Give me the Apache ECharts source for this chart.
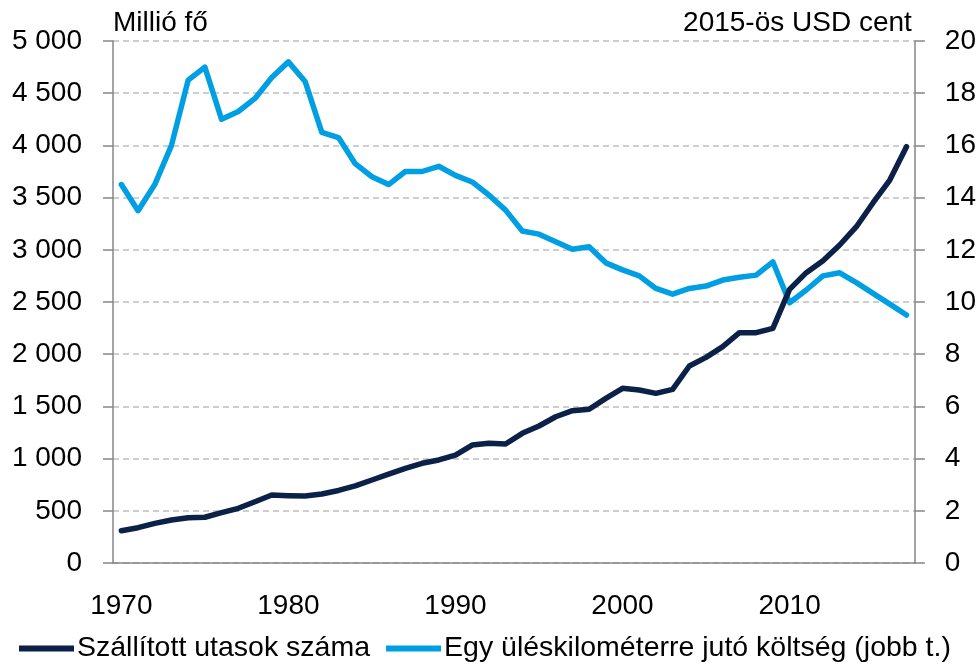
<!DOCTYPE html>
<html>
<head>
<meta charset="utf-8">
<script src="https://cdn.jsdelivr.net/npm/echarts@6/dist/echarts.min.js"></script>
<style>
  html, body { margin: 0; padding: 0; background: #fff; }
  #chart { width: 979px; height: 664px; }
</style>
</head>
<body>
<div id="chart"></div>
<script>
// years on the x axis (one category per year)
const years = [];
for (let y = 1970; y <= 2017; y++) years.push(String(y));

// Szállított utasok száma (millió fő, bal tengely)
const passengers = [
  309, 338, 380, 412, 434, 438, 482, 524, 587, 651,
  645, 642, 661, 695, 738, 795, 852, 907, 955, 987,
  1034, 1130, 1146, 1140, 1242, 1312, 1401, 1459, 1472, 1577,
  1673, 1657, 1625, 1663, 1887, 1970, 2072, 2206, 2206, 2248,
  2621, 2781, 2896, 3046, 3221, 3451, 3668, 3988
];

// Egy üléskilométerre jutó költség (2015-ös USD cent, jobb tengely)
const costPerSeatKm = [
  14.5, 13.5, 14.5, 16.0, 18.5, 19.0, 17.0, 17.3, 17.8, 18.6,
  19.2, 18.45, 16.5, 16.3, 15.3, 14.8, 14.5, 15.0, 15.0, 15.2,
  14.85, 14.6, 14.1, 13.52, 12.72, 12.6, 12.31, 12.02, 12.12, 11.5,
  11.23, 11.0, 10.52, 10.3, 10.52, 10.61, 10.84, 10.95, 11.03, 11.54,
  9.97, 10.46, 11.0, 11.12, 10.74, 10.33, 9.92, 9.5
];

const seriesNames = ['Szállított utasok száma', 'Egy üléskilométerre jutó költség (jobb t.)'];

const font = 'Liberation Sans, Arial, sans-serif';
const axisGray = '#868686';
const fs = 28;

const chart = echarts.init(document.getElementById('chart'));

const thousands = v => String(v).replace(/\B(?=(\d{3})+(?!\d))/g, ' ');

const option = {
  animation: false,
  textStyle: { fontFamily: font },
  grid: { left: 113, right: 64, top: 41, bottom: 101 },
  legend: {
    data: seriesNames,
    left: 14,
    top: 629,
    itemWidth: 55,
    itemHeight: 6,
    itemGap: 16,
    icon: 'rect',
    textStyle: { fontFamily: font, fontSize: 28.5, color: '#000', padding: [0, 0, 0, -2] }
  },
  xAxis: {
    type: 'category',
    data: years,
    boundaryGap: true,
    axisLine: { lineStyle: { color: axisGray, width: 1.5 } },
    axisTick: { interval: 9, length: 10, lineStyle: { color: axisGray, width: 1.5 } },
    axisLabel: { interval: 9, margin: 29, fontSize: fs, color: '#000', fontFamily: font },
    splitLine: { show: false }
  },
  yAxis: [
    {
      type: 'value',
      min: 0, max: 5000, interval: 500,
      name: 'Millió fő',
      nameLocation: 'end',
      nameGap: 4,
      nameTextStyle: { fontSize: fs, color: '#000', align: 'left', fontFamily: font },
      axisLine: { show: true, lineStyle: { color: axisGray, width: 1.5 } },
      axisTick: { show: true, length: 10, lineStyle: { color: axisGray, width: 1.5 } },
      axisLabel: { margin: 31, fontSize: fs, color: '#000', fontFamily: font, formatter: thousands },
      splitLine: { show: true, lineStyle: { color: '#bfbfbf', width: 1.5, type: [6, 4] } }
    },
    {
      type: 'value',
      min: 0, max: 20, interval: 2,
      position: 'right',
      name: '2015-ös USD cent',
      nameLocation: 'end',
      nameGap: 4,
      nameTextStyle: { fontSize: fs, color: '#000', align: 'right', fontFamily: font, padding: [0, 3, 0, 0] },
      axisLine: { show: true, lineStyle: { color: axisGray, width: 1.5 } },
      axisTick: { show: true, length: 10, lineStyle: { color: axisGray, width: 1.5 } },
      axisLabel: { margin: 30, fontSize: fs, color: '#000', fontFamily: font },
      splitLine: { show: false }
    }
  ],
  series: [
    {
      name: seriesNames[0],
      type: 'line',
      yAxisIndex: 0,
      data: passengers,
      symbol: 'none',
      lineStyle: { color: '#0c2148', width: 5.5, join: 'round', cap: 'round' },
      itemStyle: { color: '#0c2148' },
      z: 3
    },
    {
      name: seriesNames[1],
      type: 'line',
      yAxisIndex: 1,
      data: costPerSeatKm,
      symbol: 'none',
      lineStyle: { color: '#009fe3', width: 5.5, join: 'round', cap: 'round' },
      itemStyle: { color: '#009fe3' },
      z: 2
    }
  ]
};

chart.setOption(option);
</script>
</body>
</html>
